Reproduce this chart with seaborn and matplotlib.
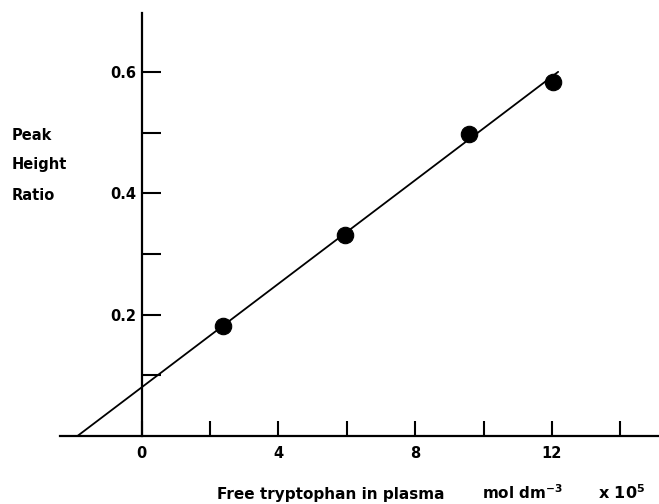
import matplotlib
matplotlib.use("Agg")
import matplotlib.pyplot as plt
import seaborn as sns
import pandas as pd

# Data
conc = [2.37, 5.94, 9.58, 12.02]          # free tryptophan, mol dm^-3 x 10^5
ratio = [0.181, 0.331, 0.497, 0.583]      # peak height ratio
fit_x = [-1.88, 12.18]                    # drawn calibration line
fit_y = [0.0, 0.60]
xtick_vals = [0, 2, 4, 6, 8, 10, 12, 14]
xtick_labels = ["0", "", "4", "", "8", "", "12", ""]
ytick_vals = [0.1, 0.2, 0.3, 0.4, 0.5, 0.6]
ytick_labels = ["", "0.2", "", "0.4", "", "0.6"]

sns.set_style("white")
plt.rcParams["font.family"] = ["DejaVu Sans"]
plt.rcParams["text.color"] = "black"

fig = plt.figure(figsize=(6.59, 5.04), dpi=100)
ax = fig.add_axes([60 / 659, 68 / 504, 599 / 659, 423 / 504])

pts = pd.DataFrame({"conc": conc, "ratio": ratio})
fit = pd.DataFrame({"x": fit_x, "y": fit_y})

sns.lineplot(data=fit, x="x", y="y", ax=ax, color="black", linewidth=1.3)
sns.scatterplot(data=pts, x="conc", y="ratio", ax=ax, color="black",
                s=140, edgecolor="black", linewidth=0.8, zorder=3)

ax.set_xlim(-2.39, 15.13)
ax.set_ylim(0, 0.697)

for s in ["top", "right"]:
    ax.spines[s].set_visible(False)
ax.spines["left"].set_position(("data", 0))
ax.spines["left"].set_linewidth(1.6)
ax.spines["bottom"].set_linewidth(1.6)
ax.spines["left"].set_color("black")
ax.spines["bottom"].set_color("black")

ax.set_xticks(xtick_vals)
ax.set_xticklabels(xtick_labels)
ax.set_yticks(ytick_vals)
ax.set_yticklabels(ytick_labels)
ax.tick_params(axis="y", direction="in", length=14, width=1.5, pad=4,
               labelsize=10.5, colors="black", left=True)
ax.tick_params(axis="x", direction="in", length=11, width=1.5, pad=7,
               labelsize=10.5, colors="black", bottom=True)
for lab in ax.get_xticklabels() + ax.get_yticklabels():
    lab.set_fontweight("bold")

ax.set_xlabel("")
ax.set_ylabel("")

# y-axis label as three stacked words
for word, ypix in [("Peak", 135), ("Height", 165), ("Ratio", 195)]:
    fig.text(12 / 659, (504 - ypix) / 504, word, fontsize=10.5,
             fontweight="bold", va="center", ha="left", color="black")

# x-axis label pieces
base = (504 - 499) / 504
fig.text(217 / 659, base, "Free tryptophan in plasma",
         fontsize=11, fontweight="bold", va="baseline", ha="left", color="black")
fig.text(482 / 659, base, r"mol dm$^{\mathbf{-3}}$",
         fontsize=11, fontweight="bold", va="baseline", ha="left", color="black")
fig.text(598 / 659, base, r"x 10$^{\mathbf{5}}$",
         fontsize=11.5, fontweight="bold", va="baseline", ha="left", color="black")

fig.savefig("out.png", dpi=100)
